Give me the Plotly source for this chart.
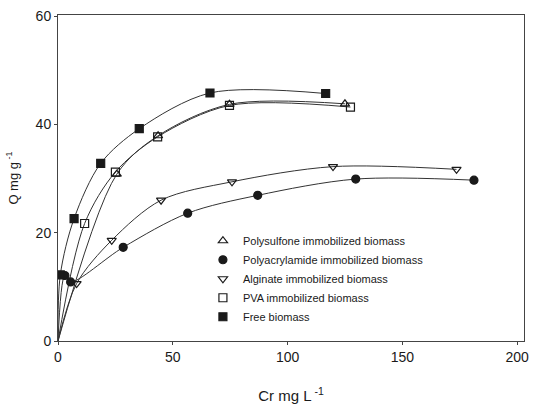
import plotly.graph_objects as go

# Sorption isotherms: metal uptake vs. equilibrium concentration
poly_sulfone_c = [25.6, 43.6, 74.7, 125.0]
poly_sulfone_q = [30.8, 37.9, 43.7, 43.8]

poly_acryl_c = [3.0, 5.5, 28.4, 56.5, 87.0, 129.7, 181.2]
poly_acryl_q = [12.1, 10.9, 17.3, 23.6, 26.9, 29.9, 29.7]

alginate_c = [8.1, 23.4, 44.9, 75.8, 119.8, 173.6]
alginate_q = [10.6, 18.6, 26.0, 29.4, 32.2, 31.7]

pva_c = [11.6, 25.0, 43.4, 74.7, 127.4]
pva_q = [21.7, 31.2, 37.7, 43.5, 43.2]

free_c = [1.0, 7.0, 18.6, 35.4, 66.2, 116.6]
free_q = [12.2, 22.6, 32.8, 39.2, 45.8, 45.7]

# every fitted curve starts at the origin
origin_c = 0.0
origin_q = 0.0

x_ticks = [0, 50, 100, 150, 200]
y_ticks = [0, 20, 40, 60]

series = [
    ("Polysulfone immobilized biomass", poly_sulfone_c, poly_sulfone_q, "triangle-up-open", 8),
    ("Polyacrylamide immobilized biomass", poly_acryl_c, poly_acryl_q, "circle", 8),
    ("Alginate immobilized biomass", alginate_c, alginate_q, "triangle-down-open", 8),
    ("PVA immobilized biomass", pva_c, pva_q, "square-open", 8),
    ("Free biomass", free_c, free_q, "square", 8),
]

ink = "#1a1a1a"
fig = go.Figure()

for name, c, q, sym, size in series:
    fig.add_trace(go.Scatter(
        x=[origin_c] + c, y=[origin_q] + q,
        mode="lines", line=dict(color="#333333", width=1, shape="spline", smoothing=0.9),
        showlegend=False, hoverinfo="skip",
    ))

for name, c, q, sym, size in series:
    fig.add_trace(go.Scatter(
        x=c, y=q, mode="markers", name=name,
        marker=dict(symbol=sym, size=size, color=ink, line=dict(color=ink, width=1.2)),
    ))

axis_common = dict(
    showgrid=False, zeroline=False, showline=True, linecolor="#444444", linewidth=1,
    mirror=True, ticks="outside", ticklen=3, tickcolor="#444444", automargin=False,
    tickfont=dict(family="Liberation Sans, Arial, sans-serif", size=14, color=ink),
)

fig.update_layout(
    width=533, height=404,
    margin=dict(l=58, r=9, t=15, b=63),
    paper_bgcolor="white", plot_bgcolor="white",
    font=dict(family="Liberation Sans, Arial, sans-serif", color=ink),
    xaxis=dict(range=[0, 203], tickvals=x_ticks, ticktext=[str(v) for v in x_ticks],
               title=dict(text="Cr mg L<sup> -1</sup>", font=dict(size=15), standoff=30),
               **axis_common),
    yaxis=dict(range=[0, 60.2], tickvals=y_ticks, ticktext=[str(v) for v in y_ticks],
               title=dict(text="Q mg g<sup> -1</sup>", font=dict(size=13), standoff=14),
               **axis_common),
    legend=dict(x=0.311, y=0.352, xanchor="left", yanchor="top",
                bgcolor="rgba(0,0,0,0)", borderwidth=0,
                font=dict(size=11, color=ink)),
)

fig.write_html("out.html")
